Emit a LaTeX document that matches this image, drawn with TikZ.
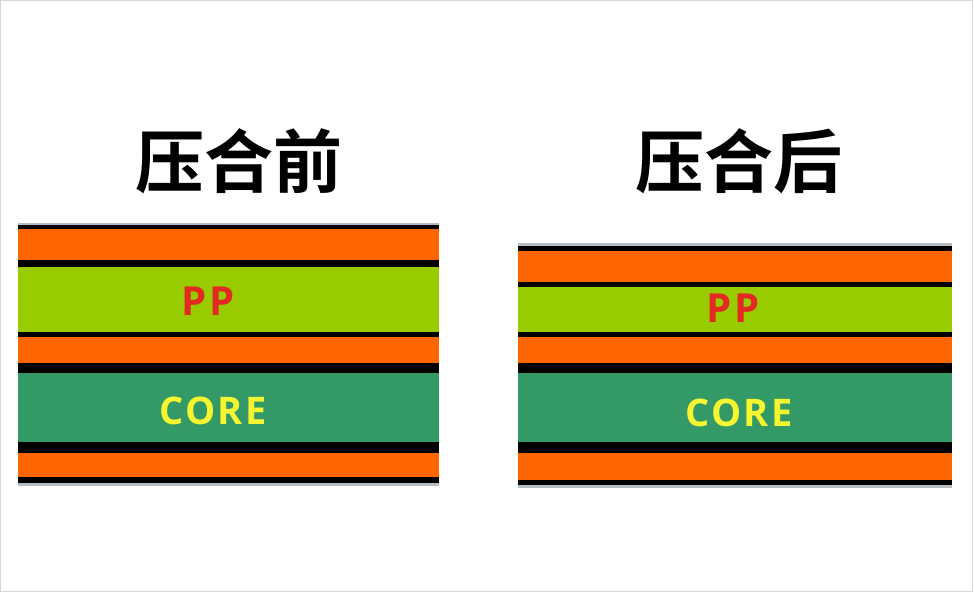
\documentclass[tikz,border=0pt]{standalone}
\usepackage{fontspec}
\newfontfamily\cjk{Noto Sans CJK SC Bold}
\newfontfamily\lab{Open Sans}[LetterSpace=6]
\definecolor{cuorange}{HTML}{FF6600}
\definecolor{pplime}{HTML}{99CC00}
\definecolor{coregreen}{HTML}{339966}
\definecolor{edgegrey}{HTML}{B4BCC4}
\definecolor{pptext}{HTML}{E32A22}
\definecolor{coretext}{HTML}{F6F532}
\definecolor{framegrey}{HTML}{D6D6D6}
\tikzset{
  title/.style={font=\cjk\fontsize{69}{69}\selectfont, text=black, inner sep=0pt},
  pplabel/.style={font=\lab\bfseries\fontsize{40}{40}\selectfont, text=pptext, inner sep=0pt},
  corelabel/.style={font=\lab\bfseries\fontsize{38}{38}\selectfont, text=coretext, inner sep=0pt}
}
\begin{document}
\begin{tikzpicture}[x=1pt,y=-1pt]
\useasboundingbox (0,0) rectangle (973,592);
\fill[white] (0,0) rectangle (973,592);
\draw[framegrey,line width=1pt] (0.5,0.5) rectangle (972.5,591.5);
% ---------- left stack (before pressing) ----------
\def\xa{18}\def\xb{439}
\fill[edgegrey]   (\xa,223) rectangle (\xb,225);
\fill[black]      (\xa,225) rectangle (\xb,229);
\fill[cuorange]   (\xa,229) rectangle (\xb,260);
\fill[black]      (\xa,260) rectangle (\xb,267);
\fill[pplime]     (\xa,267) rectangle (\xb,332);
\fill[black]      (\xa,332) rectangle (\xb,337);
\fill[cuorange]   (\xa,337) rectangle (\xb,363);
\fill[black]      (\xa,363) rectangle (\xb,373);
\fill[coregreen]  (\xa,373) rectangle (\xb,442);
\fill[black]      (\xa,442) rectangle (\xb,453);
\fill[cuorange]   (\xa,453) rectangle (\xb,477);
\fill[black]      (\xa,477) rectangle (\xb,483);
\fill[edgegrey]   (\xa,483) rectangle (\xb,486);
% ---------- right stack (after pressing) ----------
\def\xc{518}\def\xd{952}
\fill[edgegrey]   (\xc,243) rectangle (\xd,246);
\fill[black]      (\xc,246) rectangle (\xd,251);
\fill[cuorange]   (\xc,251) rectangle (\xd,282);
\fill[black]      (\xc,282) rectangle (\xd,287);
\fill[pplime]     (\xc,287) rectangle (\xd,332);
\fill[black]      (\xc,332) rectangle (\xd,337);
\fill[cuorange]   (\xc,337) rectangle (\xd,363);
\fill[black]      (\xc,363) rectangle (\xd,373);
\fill[coregreen]  (\xc,373) rectangle (\xd,442);
\fill[black]      (\xc,442) rectangle (\xd,453);
\fill[cuorange]   (\xc,453) rectangle (\xd,480);
\fill[black]      (\xc,480) rectangle (\xd,485);
\fill[edgegrey]   (\xc,485) rectangle (\xd,488);
% ---------- texts ----------
\node[title] (t1) at (239,161) {压合前};
\node[title] (t2) at (739,161) {压合后};
\node[pplabel] (pp1) at (208,301) {PP};
\node[pplabel] (pp2) at (733,308) {PP};
\node[corelabel] (c1) at (213,411) {CORE};
\node[corelabel] (c2) at (739,413) {CORE};
\end{tikzpicture}
\end{document}
